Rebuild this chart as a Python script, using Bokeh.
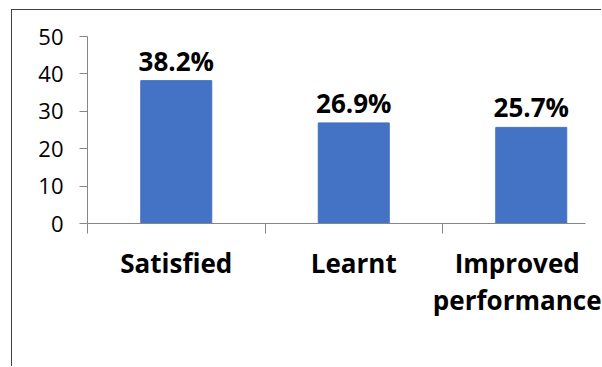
from bokeh.plotting import figure
from bokeh.models import Range1d, FixedTicker
from bokeh.core.properties import value
from bokeh.embed import file_html
from bokeh.resources import INLINE

# ---- data ----
categories = ["Satisfied", "Learnt", "Improved\nperformance"]
percent = [38.2, 26.9, 25.7]
pct_labels = ["38.2%", "26.9%", "25.7%"]
y_ticks = [0, 10, 20, 30, 40, 50]

x_pos = [i + 0.5 for i in range(len(categories))]
bounds = list(range(len(categories) + 1))

AX = "#868686"
FONT = value("Open Sans")

p = figure(width=590, height=357, output_backend="svg", toolbar_location=None,
           x_range=Range1d(0, 498 / 177.5), y_range=Range1d(0, 50),
           min_border_left=75, min_border_right=17, min_border_top=26,
           min_border_bottom=144, margin=(9, 0, 0, 11),
           styles={"border-top": "1px solid #404040", "border-left": "1px solid #404040"})

p.vbar(x=x_pos, top=percent, width=0.4, fill_color="#4472C4", line_color="#4472C4")
p.text(x=x_pos, y=percent, text=pct_labels, y_offset=-20, text_align="center",
       text_baseline="alphabetic", text_font=FONT, text_font_style="bold",
       text_font_size="26px", text_color="black")

p.xgrid.visible = False
p.ygrid.visible = False
p.outline_line_color = None

ya = p.yaxis[0]
ya.ticker = FixedTicker(ticks=y_ticks)
ya.axis_line_color = AX
ya.major_tick_line_color = AX
ya.major_tick_out = 8
ya.major_tick_in = 0
ya.minor_tick_line_color = None
ya.major_label_standoff = 16
ya.major_label_text_font = "Open Sans"
ya.major_label_text_font_size = "22px"
ya.major_label_text_color = "black"

xa = p.xaxis[0]
xa.ticker = FixedTicker(ticks=x_pos, minor_ticks=bounds)
xa.axis_line_color = AX
xa.major_tick_line_color = None
xa.major_tick_out = 0
xa.major_tick_in = 0
xa.minor_tick_line_color = AX
xa.minor_tick_out = 10
xa.minor_tick_in = 0
xa.major_label_overrides = dict(zip(x_pos, categories))
xa.major_label_standoff = 11
xa.major_label_text_font = "Open Sans"
xa.major_label_text_font_style = "bold"
xa.major_label_text_font_size = "26px"
xa.major_label_text_color = "black"
xa.major_label_text_line_height = 1.05

open("out.html", "w").write(file_html(p, INLINE))
